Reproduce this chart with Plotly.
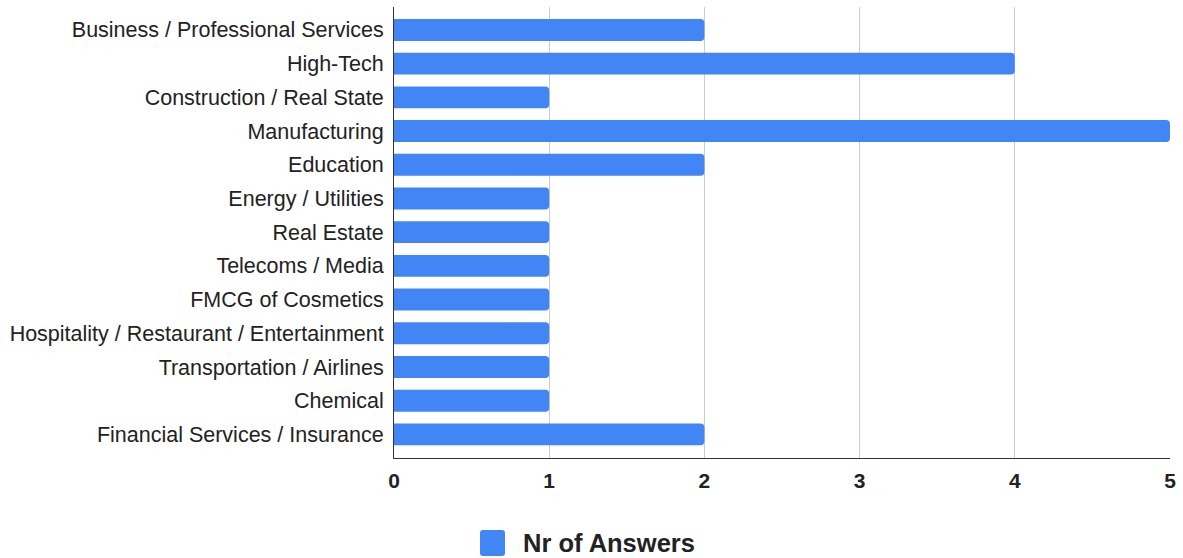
import plotly.graph_objects as go

# Industries, listed top to bottom
industries = [
    "Business / Professional Services",
    "High-Tech",
    "Construction / Real State",
    "Manufacturing",
    "Education",
    "Energy / Utilities",
    "Real Estate",
    "Telecoms / Media",
    "FMCG of Cosmetics",
    "Hospitality / Restaurant / Entertainment",
    "Transportation / Airlines",
    "Chemical",
    "Financial Services / Insurance",
]
answers = [2, 4, 1, 5, 2, 1, 1, 1, 1, 1, 1, 1, 2]
x_ticks = [0, 1, 2, 3, 4, 5]
series_name = "Nr of Answers"
bar_color = "#4285F4"

FONT = "Liberation Sans, Arial, sans-serif"

fig = go.Figure(
    go.Bar(
        x=answers,
        y=industries,
        orientation="h",
        name=series_name,
        width=0.65,
        marker=dict(color=bar_color, line=dict(width=0), cornerradius=4),
        showlegend=False,
    )
)

# Plot area in pixels (used to place the legend key below the chart)
W, H = 1183, 558
L, R, T, B = 394, 13, 7, 100
pw, ph = W - L - R, H - T - B


def px_x(x):
    return (x - L) / pw


def px_y(y):
    return (H - B - y) / ph


# Legend key: rounded square + bold label, centred under the figure
x0, x1, y0, y1 = px_x(480), px_x(505), px_y(556), px_y(530)
rx, ry = 3 / pw, 3 / ph
key_path = (
    f"M {x0 + rx} {y0} L {x1 - rx} {y0} Q {x1} {y0} {x1} {y0 + ry} "
    f"L {x1} {y1 - ry} Q {x1} {y1} {x1 - rx} {y1} "
    f"L {x0 + rx} {y1} Q {x0} {y1} {x0} {y1 - ry} "
    f"L {x0} {y0 + ry} Q {x0} {y0} {x0 + rx} {y0} Z"
)

fig.update_layout(
    width=W,
    height=H,
    margin=dict(l=L, r=R, t=T, b=B),
    paper_bgcolor="white",
    plot_bgcolor="white",
    font=dict(family=FONT, color="#222222"),
    showlegend=False,
    xaxis=dict(
        range=[0, 5],
        tickvals=x_ticks,
        showgrid=True,
        gridcolor="#cccccc",
        gridwidth=1,
        zeroline=False,
        showline=True,
        linecolor="#333333",
        linewidth=1,
        tickfont=dict(size=21, color="#222222", family=FONT, weight="bold"),
        ticks="",
        ticklabelstandoff=4,
        fixedrange=True,
    ),
    yaxis=dict(
        categoryorder="array",
        categoryarray=industries,
        range=[12.7, -0.68],
        showgrid=False,
        showline=True,
        linecolor="#333333",
        linewidth=1,
        ticks="",
        ticklabelstandoff=5,
        tickfont=dict(size=21.5, color="#222222"),
    ),
    shapes=[
        dict(
            type="path",
            xref="paper",
            yref="paper",
            path=key_path,
            fillcolor=bar_color,
            line=dict(width=0),
        )
    ],
    annotations=[
        dict(
            xref="paper",
            yref="paper",
            x=px_x(521),
            y=px_y(543),
            xanchor="left",
            yanchor="middle",
            text=f"<b>{series_name}</b>",
            showarrow=False,
            font=dict(size=25.5, color="#222222", family=FONT),
        )
    ],
)

fig.write_html("out.html")
